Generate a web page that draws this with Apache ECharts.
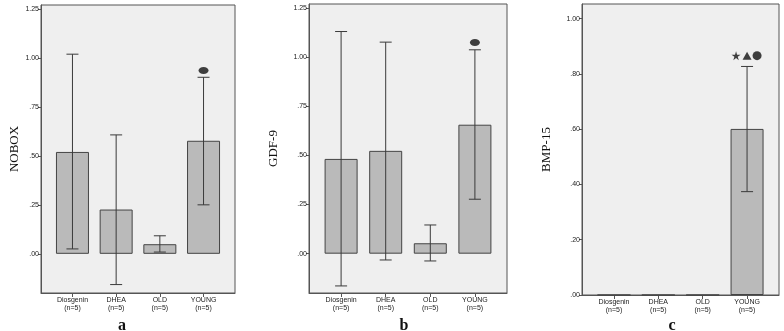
<!DOCTYPE html>
<html>
<head>
<meta charset="utf-8">
<title>NOBOX / GDF-9 / BMP-15</title>
<script src="https://cdn.jsdelivr.net/npm/echarts@6/dist/echarts.min.js"></script>
<style>
  html, body { margin: 0; padding: 0; background: #fff; }
  #chart { width: 784px; height: 331px; }
</style>
</head>
<body>
<div id="chart"></div>
<script>
var categories = ['Diosgenin\n(n=5)', 'DHEA\n(n=5)', 'OLD\n(n=5)', 'YOUNG\n(n=5)'];

// panel a - NOBOX
var noboxMean  = [0.520, 0.226, 0.049, 0.577];
var noboxUpper = [1.019, 0.607, 0.092, 0.901];
var noboxLower = [0.025, -0.157, 0.009, 0.250];
var noboxMarks = [[3, 0.936]];

// panel b - GDF-9
var gdfMean  = [0.482, 0.523, 0.053, 0.656];
var gdfUpper = [1.130, 1.076, 0.146, 1.037];
var gdfLower = [-0.164, -0.032, -0.037, 0.277];
var gdfMarks = [[3, 1.074]];

// panel c - BMP-15 (only YOUNG has a measurable value)
var bmpMean  = [0, 0, 0, 0.601];
var bmpUpper = [null, null, null, 0.827];
var bmpLower = [null, null, null, 0.374];
var bmpMarks = [[3, 0.866]];

var ticksAB = [0, 0.25, 0.5, 0.75, 1, 1.25];
var ticksC  = [0, 0.2, 0.4, 0.6, 0.8, 1.0];
var panelLetters = ['a', 'b', 'c'];

(function (echarts) {
  "use strict";

  var chart = echarts.init(document.getElementById('chart'), null, { renderer: 'canvas' })
    , AXIS_COLOR = '#555'
    , STAR = 'path://M50,0 L61,35 L98,35 L68,57 L79,91 L50,70 L21,91 L32,57 L2,35 L39,35 Z';

  // SPSS style: ".25" instead of "0.25"
  function spss(v) {
    return v.toFixed(2).replace(/^0\./, '.').replace(/^-0\./, '-.');
  }

  function pairs(values) {
    return values.map(function (v, i) { return [i, v]; });
  }

  function errData(lower, upper) {
    var out = [];
    lower.forEach(function (lo, i) {
      if (lo !== null && upper[i] !== null) out.push([i, lo, upper[i]]);
    });
    return out;
  }

  function renderErr(params, api) {
    var x = api.value(0)
      , lo = api.coord([x, api.value(1)])
      , hi = api.coord([x, api.value(2)])
      , half = 6
      , style = { stroke: '#3a3a3a', lineWidth: 1 };
    return {
      type: 'group',
      children: [
        { type: 'line', shape: { x1: hi[0], y1: hi[1], x2: lo[0], y2: lo[1] }, style: style },
        { type: 'line', shape: { x1: hi[0] - half, y1: hi[1], x2: hi[0] + half, y2: hi[1] }, style: style },
        { type: 'line', shape: { x1: lo[0] - half, y1: lo[1], x2: lo[0] + half, y2: lo[1] }, style: style }
      ]
    };
  }

  var panels = [
    { grid: { left: 41, right: 549, top: 5, bottom: 38 }, name: 'NOBOX', nameGap: 19,
      min: -0.2, max: 1.27, ticks: ticksAB, mean: noboxMean, lower: noboxLower, upper: noboxUpper,
      marks: [{ data: noboxMarks, symbol: 'circle', size: [10, 7], offset: [0, 0] }] },
    { grid: { left: 309, right: 277, top: 4, bottom: 38 }, name: 'GDF-9', nameGap: 29,
      min: -0.2, max: 1.27, ticks: ticksAB, mean: gdfMean, lower: gdfLower, upper: gdfUpper,
      marks: [{ data: gdfMarks, symbol: 'circle', size: [10, 7], offset: [0, 0] }] },
    { grid: { left: 582, right: 5, top: 4, bottom: 36 }, name: 'BMP-15', nameGap: 29,
      min: 0, max: 1.053, ticks: ticksC, mean: bmpMean, lower: bmpLower, upper: bmpUpper,
      marks: [
        { data: bmpMarks, symbol: STAR, size: 9, offset: [-11, 0] },
        { data: bmpMarks, symbol: 'triangle', size: [9, 8], offset: [0, 0] },
        { data: bmpMarks, symbol: 'circle', size: 9, offset: [10, 0] }
      ] }
  ];

  var grids = [], xAxes = [], yAxes = [], series = [];

  panels.forEach(function (p, k) {
    grids.push(Object.assign({
      show: true, backgroundColor: '#efefef', borderColor: AXIS_COLOR, borderWidth: 1
    }, p.grid));

    xAxes.push({
      type: 'value', gridIndex: k, min: -0.72, max: 3.72,
      splitLine: { show: false },
      axisLine: { show: true, onZero: false, lineStyle: { color: AXIS_COLOR } },
      axisTick: { show: true, length: 4, customValues: [0, 1, 2, 3], lineStyle: { color: AXIS_COLOR } },
      axisLabel: {
        customValues: [0, 1, 2, 3], margin: 3,
        formatter: function (v) { return categories[Math.round(v)]; },
        fontFamily: 'Liberation Sans', fontSize: 7, lineHeight: 8, color: '#222'
      }
    });

    yAxes.push({
      type: 'value', gridIndex: k, min: p.min, max: p.max,
      name: p.name, nameLocation: 'middle', nameGap: p.nameGap,
      nameTextStyle: { fontFamily: 'Liberation Serif', fontSize: 13, color: '#111' },
      splitLine: { show: false },
      axisLine: { show: true, onZero: false, lineStyle: { color: AXIS_COLOR } },
      axisTick: { show: true, length: 3, customValues: p.ticks, lineStyle: { color: AXIS_COLOR } },
      axisLabel: {
        customValues: p.ticks, margin: 2, formatter: spss,
        fontFamily: 'Liberation Sans', fontSize: 7, color: '#222'
      }
    });

    series.push({
      type: 'bar', xAxisIndex: k, yAxisIndex: k, barWidth: 33,
      data: pairs(p.mean),
      itemStyle: { color: '#bababa', borderColor: '#444', borderWidth: 1 },
      z: 2
    });

    series.push({
      type: 'custom', xAxisIndex: k, yAxisIndex: k,
      data: errData(p.lower, p.upper),
      encode: { x: 0, y: [1, 2] },
      renderItem: renderErr,
      z: 3
    });

    p.marks.forEach(function (m) {
      series.push({
        type: 'scatter', xAxisIndex: k, yAxisIndex: k,
        data: m.data, symbol: m.symbol, symbolSize: m.size, symbolOffset: m.offset,
        itemStyle: { color: '#111' },
        z: 4
      });
    });
  });

  var letterX = [117, 399, 667];
  var titles = panelLetters.map(function (t, i) {
    return {
      text: t, left: letterX[i], top: 313, textAlign: 'center',
      textStyle: { fontFamily: 'Liberation Serif', fontWeight: 'bold', fontSize: 16, color: '#111' }
    };
  });

  chart.setOption({
    animation: false,
    backgroundColor: '#fff',
    title: titles,
    grid: grids,
    xAxis: xAxes,
    yAxis: yAxes,
    series: series
  });
})(echarts);
</script>
</body>
</html>
